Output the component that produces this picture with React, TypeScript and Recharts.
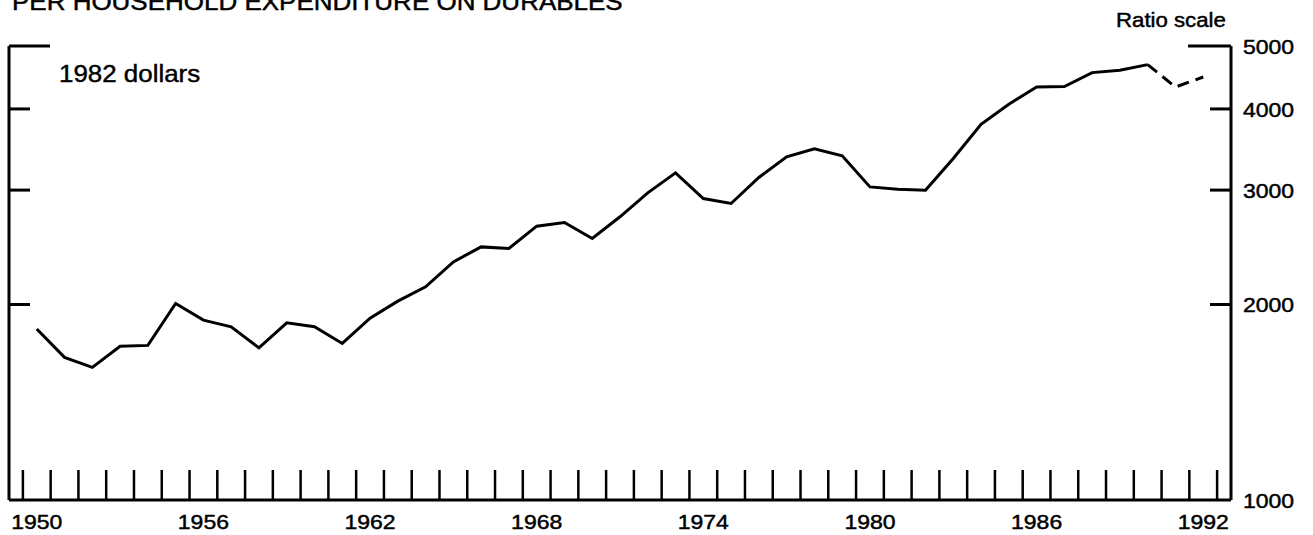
import React from 'react';
import { LineChart, Line, XAxis, YAxis } from 'recharts';

// ---------- data ----------
const years = [
  1950, 1951, 1952, 1953, 1954, 1955, 1956, 1957, 1958, 1959,
  1960, 1961, 1962, 1963, 1964, 1965, 1966, 1967, 1968, 1969,
  1970, 1971, 1972, 1973, 1974, 1975, 1976, 1977, 1978, 1979,
  1980, 1981, 1982, 1983, 1984, 1985, 1986, 1987, 1988, 1989,
  1990, 1991, 1992,
];

// per household expenditure on durables, 1982 dollars
const durablesPerHousehold = [
  1833, 1658, 1600, 1725, 1730, 2007, 1892, 1848, 1715, 1874,
  1848, 1742, 1905, 2024, 2129, 2326, 2453, 2439, 2640, 2675,
  2527, 2729, 2971, 3189, 2912, 2861, 3137, 3375, 3474, 3387,
  3034, 3009, 2998, 3356, 3789, 4067, 4323, 4330, 4550, 4587,
  4681, 4323, 4480,
];

const lastActualYear = 1990; // dashed after this

const yearLabelTicks = [1950, 1956, 1962, 1968, 1974, 1980, 1986, 1992];
const ratioTicks = [1000, 2000, 3000, 4000, 5000];

const TITLE = 'PER HOUSEHOLD EXPENDITURE ON DURABLES';
const UNIT_LABEL = '1982 dollars';
const SCALE_LABEL = 'Ratio scale';

// tick marks at year boundaries
const yearBoundaryTicks = [...years.map((y) => y - 0.5), years[years.length - 1] + 0.5];

const chartData = years.map((year, i) => ({
  year,
  actual: year <= lastActualYear ? durablesPerHousehold[i] : null,
  projected: year >= lastActualYear ? durablesPerHousehold[i] : null,
}));

const FONT = '"Liberation Sans", Arial, Helvetica, sans-serif';
const INK = '#000';
const TEXT_STROKE = 0.45;

// ---------- custom ticks ----------
const XTickMark = (props: any) => {
  const { x, y } = props;
  return <line x1={x} y1={y} x2={x} y2={y - 30} stroke={INK} strokeWidth={2.5} />;
};

const XTickLabel = (props: any) => {
  const { x, y, payload } = props;
  return (
    <text
      transform={`translate(${x},${y + 28}) scale(1.15,1)`}
      textAnchor="middle"
      fontSize={20}
      fontFamily={FONT}
      fill={INK}
      stroke={INK}
      strokeWidth={TEXT_STROKE}
    >
      {payload.value}
    </text>
  );
};

const tickLen = (v: number, long: number) => (v === 5000 ? long : v === 1000 ? 0 : 21);

const LeftTick = (props: any) => {
  const { x, y, payload } = props;
  const len = tickLen(payload.value, 41);
  if (!len) return <g />;
  return <line x1={x} y1={y} x2={x + len} y2={y} stroke={INK} strokeWidth={3} />;
};

const RightTick = (props: any) => {
  const { x, y, payload } = props;
  const len = tickLen(payload.value, 43);
  return (
    <g>
      {len > 0 && <line x1={x} y1={y} x2={x - len} y2={y} stroke={INK} strokeWidth={3} />}
      <text
        transform={`translate(${x + 12},${y + 8}) scale(1.15,1)`}
        fontSize={20}
        fontFamily={FONT}
        fill={INK}
        stroke={INK}
        strokeWidth={TEXT_STROKE}
      >
        {payload.value}
      </text>
    </g>
  );
};

export default function App() {
  return (
    <div style={{ position: 'absolute', left: 0, top: 0, width: 1313, height: 535, background: '#fff', overflow: 'hidden' }}>
      <LineChart
        width={1313}
        height={535}
        data={chartData}
        margin={{ top: 46, right: 0, bottom: 0, left: 0 }}
      >
        <XAxis
          xAxisId="b_labels"
          dataKey="year"
          type="number"
          domain={[1949, 1993]}
          ticks={yearLabelTicks}
          interval={0}
          height={34}
          tickSize={0}
          tickMargin={0}
          tickLine={false}
          axisLine={false}
          tick={<XTickLabel />}
        />
        <XAxis
          xAxisId="a_marks"
          dataKey="year"
          type="number"
          domain={[1949, 1993]}
          ticks={yearBoundaryTicks}
          interval={0}
          height={1}
          tickSize={0}
          tickMargin={0}
          tickLine={false}
          axisLine={{ stroke: INK, strokeWidth: 3 }}
          tick={<XTickMark />}
        />
        <YAxis
          yAxisId="left"
          orientation="left"
          scale="log"
          domain={[1000, 5000]}
          ticks={ratioTicks}
          interval={0}
          width={9}
          tickSize={0}
          tickMargin={0}
          tickLine={false}
          axisLine={{ stroke: INK, strokeWidth: 3 }}
          tick={<LeftTick />}
        />
        <YAxis
          yAxisId="right"
          orientation="right"
          scale="log"
          domain={[1000, 5000]}
          ticks={ratioTicks}
          interval={0}
          width={82}
          tickSize={0}
          tickMargin={0}
          tickLine={false}
          axisLine={{ stroke: INK, strokeWidth: 3 }}
          tick={<RightTick />}
        />
        <Line
          xAxisId="a_marks"
          yAxisId="left"
          type="linear"
          dataKey="actual"
          stroke={INK}
          strokeWidth={3}
          dot={false}
          activeDot={false}
          connectNulls={false}
          isAnimationActive={false}
        />
        <Line
          xAxisId="b_labels"
          yAxisId="right"
          type="linear"
          dataKey="projected"
          stroke={INK}
          strokeWidth={3}
          strokeDasharray="12 7"
          dot={false}
          activeDot={false}
          connectNulls={false}
          isAnimationActive={false}
        />
      </LineChart>
      <svg
        width={1313}
        height={535}
        style={{ position: 'absolute', left: 0, top: 0, pointerEvents: 'none' }}
      >
        <text transform="translate(12,9.5) scale(1.13,1)" fontSize={23} fontFamily={FONT} fill={INK} stroke={INK} strokeWidth={TEXT_STROKE}>
          {TITLE}
        </text>
        <text transform="translate(59,81.5) scale(1.08,1)" fontSize={24} fontFamily={FONT} fill={INK} stroke={INK} strokeWidth={TEXT_STROKE}>
          {UNIT_LABEL}
        </text>
        <text transform="translate(1116,27) scale(1.14,1)" fontSize={19.5} fontFamily={FONT} fill={INK} stroke={INK} strokeWidth={TEXT_STROKE}>
          {SCALE_LABEL}
        </text>
      </svg>
    </div>
  );
}
